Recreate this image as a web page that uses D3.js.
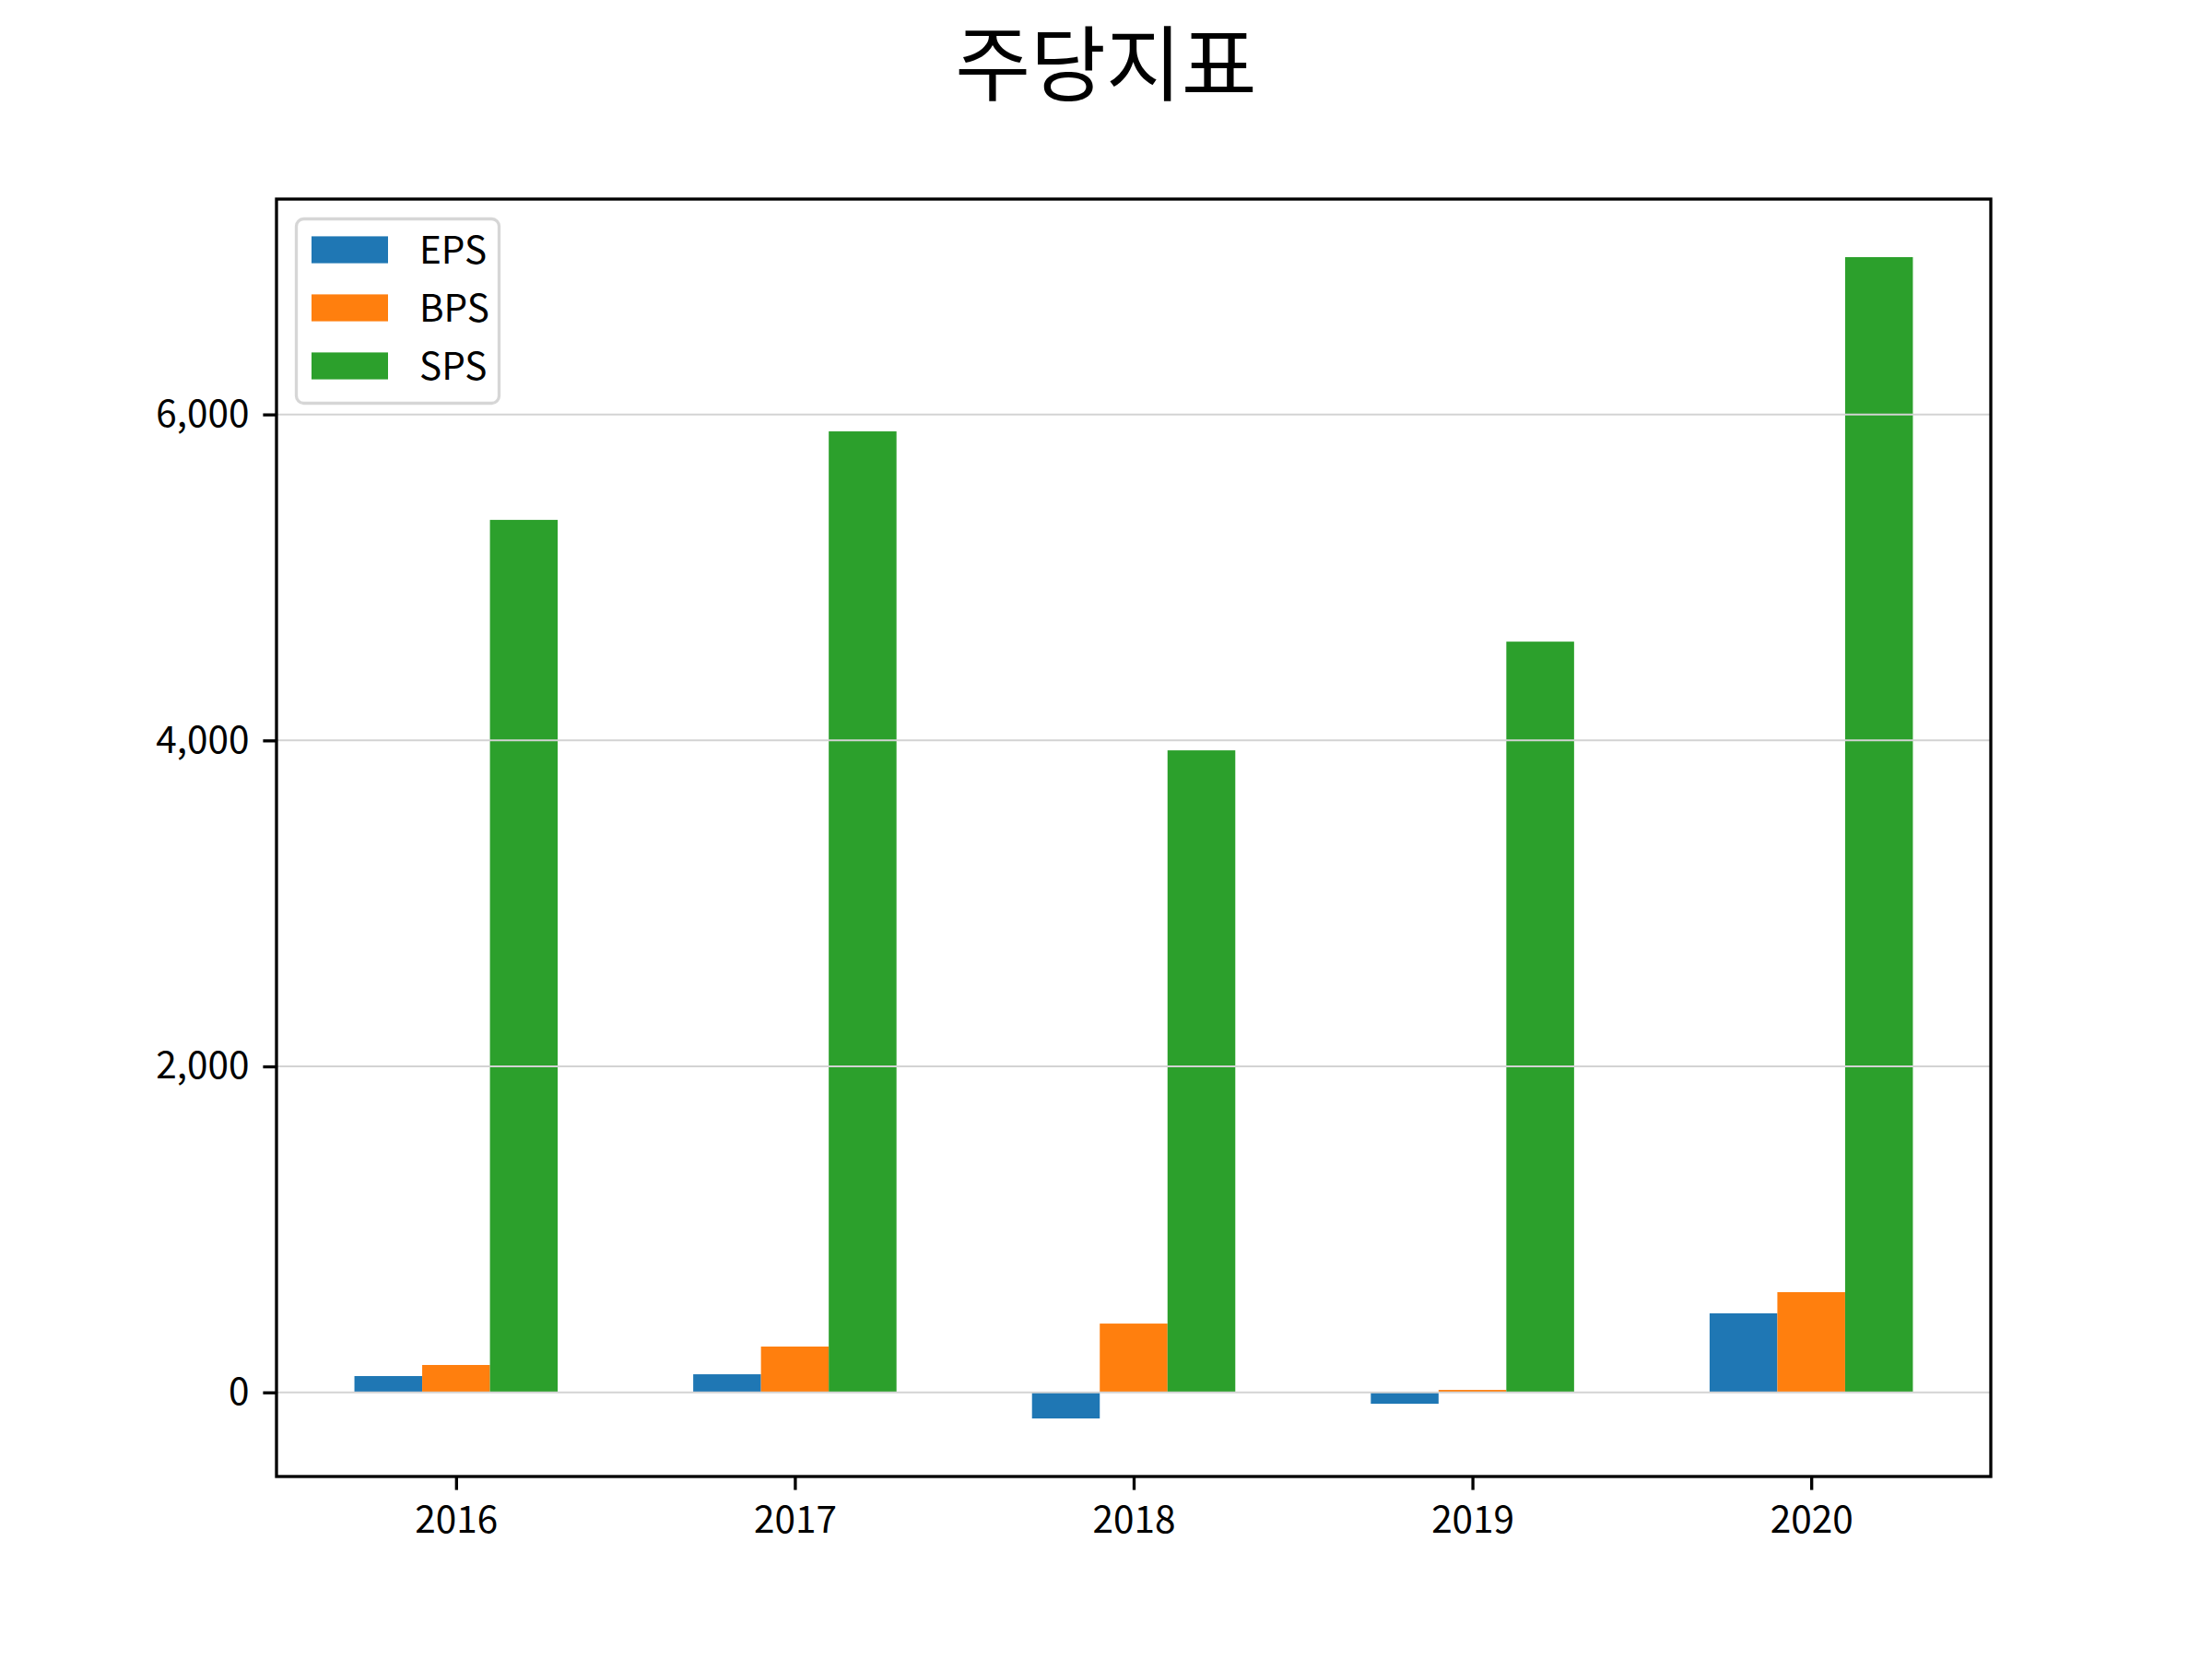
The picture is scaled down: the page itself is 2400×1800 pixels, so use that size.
<!DOCTYPE html>
<html>
<head>
<meta charset="utf-8">
<script src="https://cdn.jsdelivr.net/npm/d3@7"></script>
<style>
  html, body { margin: 0; padding: 0; background: #ffffff; }
  svg { display: block; }
  text { font-family: "Noto Sans CJK KR", "Noto Sans", sans-serif; fill: #000; }
</style>
</head>
<body>
<svg id="chart" width="2400" height="1800"></svg>
<script>
// ---- data ----
const title = "주당지표";
const years = ["2016", "2017", "2018", "2019", "2020"];
const seriesNames = ["EPS", "BPS", "SPS"];
const epsValues = [100, 111, -160, -70, 485];
const bpsValues = [168, 281, 422, 15, 615];
const spsValues = [5353, 5896, 3939, 4606, 6965];
const yTickValues = [0, 2000, 4000, 6000];
const seriesColors = ["#1f77b4", "#ff7f0e", "#2ca02c"];

const seriesValues = [epsValues, bpsValues, spsValues];

// ---- layout ----
const W = 2400, H = 1800;
const plotLeft = 300, plotRight = 2160, plotTop = 216, plotBottom = 1602;
const barWidth = 0.2;
const tickLen = 14.6, spineW = 3.33, fontSize = 40.5;

const svg = d3.select("#chart");
svg.append("rect").attr("width", W).attr("height", H).attr("fill", "#fff");

// scales (matplotlib-like autoscale with 5% margins)
const allVals = seriesValues.flat().concat([0]);
const yMin = d3.min(allVals), yMax = d3.max(allVals);
const yPad = (yMax - yMin) * 0.05;
const y = d3.scaleLinear().domain([yMin - yPad, yMax + yPad]).range([plotBottom, plotTop]);

const xLo = -0.3, xHi = (years.length - 1) + 0.3;
const xPad = (xHi - xLo) * 0.05;
const x = d3.scaleLinear().domain([xLo - xPad, xHi + xPad]).range([plotLeft, plotRight]);

const plot = svg.append("g");

// bars
seriesValues.forEach((vals, k) => {
  plot.append("g").selectAll("rect")
    .data(vals)
    .join("rect")
    .attr("x", (d, i) => x(i + (k - 1) * barWidth - barWidth / 2))
    .attr("width", (d, i) => x(i + (k - 1) * barWidth + barWidth / 2) - x(i + (k - 1) * barWidth - barWidth / 2))
    .attr("y", d => y(Math.max(0, d)))
    .attr("height", d => Math.abs(y(d) - y(0)))
    .attr("fill", seriesColors[k]);
});

// horizontal grid (drawn over bars)
plot.append("g").selectAll("line")
  .data(yTickValues)
  .join("line")
  .attr("x1", plotLeft).attr("x2", plotRight)
  .attr("y1", d => y(d)).attr("y2", d => y(d))
  .attr("stroke", "#d3d3d3")
  .attr("stroke-width", 2);

// axes
const yAxis = d3.axisLeft(y).tickValues(yTickValues).tickFormat(d3.format(",")).tickSize(tickLen).tickPadding(15);
const xAxis = d3.axisBottom(x).tickValues(d3.range(years.length)).tickFormat(i => years[i]).tickSize(tickLen).tickPadding(18);

const gy = svg.append("g").attr("transform", `translate(${plotLeft},0)`).call(yAxis);
const gx = svg.append("g").attr("transform", `translate(0,${plotBottom})`).call(xAxis);
[gx, gy].forEach(g => {
  g.select(".domain").remove();
  g.selectAll(".tick line").attr("stroke", "#000").attr("stroke-width", spineW);
  g.selectAll(".tick text")
    .style("font-family", '"Noto Sans CJK KR", "Noto Sans", sans-serif')
    .style("font-size", fontSize + "px")
    .attr("fill", "#000");
});

// frame (spines)
svg.append("rect")
  .attr("x", plotLeft).attr("y", plotTop)
  .attr("width", plotRight - plotLeft).attr("height", plotBottom - plotTop)
  .attr("fill", "none").attr("stroke", "#000").attr("stroke-width", spineW);

// legend
const lg = svg.append("g");
lg.append("rect")
  .attr("x", 321.5).attr("y", 237.5)
  .attr("width", 220).attr("height", 200)
  .attr("rx", 8).attr("ry", 8)
  .attr("fill", "rgba(255,255,255,0.8)")
  .attr("stroke", "#d6d6d6").attr("stroke-width", 3.3);
seriesNames.forEach((name, k) => {
  const cy = 271 + k * 63;
  lg.append("rect")
    .attr("x", 338).attr("y", cy - 14.6)
    .attr("width", 83).attr("height", 29.2)
    .attr("fill", seriesColors[k]);
  lg.append("text")
    .attr("x", 455).attr("y", cy + 15)
    .style("font-size", fontSize + "px")
    .text(name);
});

// title
svg.append("text")
  .attr("x", W / 2).attr("y", 102)
  .attr("text-anchor", "middle")
  .style("font-size", "89px")
  .text(title);
</script>
</body>
</html>
